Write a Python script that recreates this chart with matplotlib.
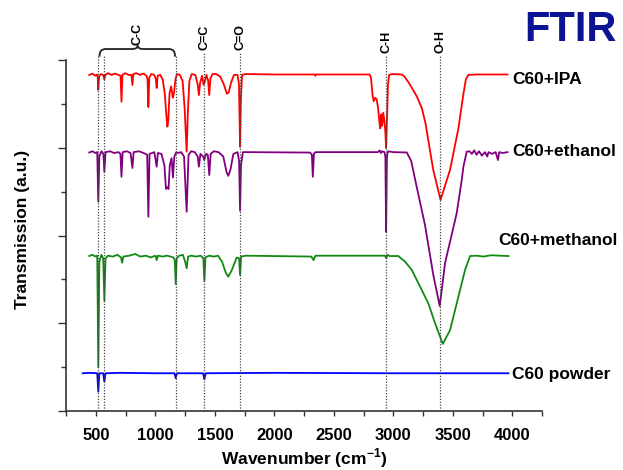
import matplotlib
matplotlib.use("Agg")
import matplotlib.pyplot as plt
from matplotlib.ticker import MultipleLocator, NullFormatter
from matplotlib.path import Path
from matplotlib.patches import PathPatch

plt.rcParams['font.family'] = ['Liberation Sans', 'DejaVu Sans']
plt.rcParams['mathtext.fontset'] = 'custom'
plt.rcParams['mathtext.rm'] = 'Liberation Sans'
plt.rcParams['mathtext.bf'] = 'Liberation Sans:bold'

# ---- spectra: (wavenumber cm^-1, stacked transmission a.u.) ----
ipa = [
    (443, 3.83), (470, 3.845), (492, 3.82), (508, 3.835), (514, 3.80), (519, 3.66), (526, 3.81),
    (540, 3.84), (560, 3.83), (570, 3.78), (578, 3.83), (600, 3.85), (630, 3.83), (660, 3.845),
    (690, 3.83), (706, 3.82), (714, 3.525), (722, 3.83), (745, 3.85), (775, 3.83), (798, 3.83),
    (806, 3.715), (814, 3.84), (840, 3.85), (870, 3.83), (900, 3.845), (925, 3.82), (933, 3.78),
    (940, 3.464), (948, 3.80), (965, 3.84), (990, 3.83), (1003, 3.78), (1010, 3.68), (1018, 3.82),
    (1040, 3.83), (1060, 3.78), (1078, 3.62), (1092, 3.36), (1100, 3.24), (1108, 3.32), (1118, 3.62),
    (1132, 3.70), (1145, 3.57), (1155, 3.62), (1168, 3.78), (1180, 3.84), (1205, 3.83), (1228, 3.76),
    (1245, 3.45), (1262, 2.955), (1272, 3.40), (1285, 3.76), (1305, 3.84), (1335, 3.83), (1355, 3.72),
    (1365, 3.60), (1375, 3.74), (1392, 3.82), (1404, 3.72), (1414, 3.75), (1428, 3.83), (1442, 3.77),
    (1452, 3.60), (1462, 3.79), (1480, 3.84), (1510, 3.84), (1545, 3.81), (1575, 3.72), (1600, 3.615),
    (1615, 3.63), (1635, 3.74), (1660, 3.83), (1690, 3.83), (1702, 3.72), (1711, 3.01), (1718, 3.55),
    (1728, 3.83), (1760, 3.84), (2000, 3.835), (2340, 3.835), (2345, 3.82), (2350, 3.835),
    (2800, 3.835), (2812, 3.80), (2825, 3.60), (2835, 3.53), (2848, 3.57), (2860, 3.55), (2872, 3.45),
    (2882, 3.30), (2890, 3.22), (2898, 3.38), (2906, 3.25), (2915, 3.40), (2925, 3.30), (2932, 3.20),
    (2939, 3.00), (2946, 3.30), (2955, 3.72), (2965, 3.83), (2990, 3.84), (3070, 3.835), (3095, 3.81),
    (3140, 3.72), (3199, 3.58), (3240, 3.45), (3270, 3.28), (3335, 2.75), (3397, 2.405), (3477, 2.75),
    (3547, 3.22), (3590, 3.62), (3610, 3.78), (3631, 3.83), (3700, 3.835), (3960, 3.835),
]

ethanol = [
    (443, 2.946), (470, 2.96), (495, 2.94), (510, 2.95), (519, 2.385), (528, 2.90), (545, 2.96),
    (562, 2.93), (570, 2.727), (580, 2.95), (620, 2.96), (650, 2.94), (690, 2.95), (705, 2.93),
    (714, 2.67), (724, 2.95), (760, 2.96), (790, 2.94), (806, 2.769), (816, 2.95), (860, 2.96),
    (900, 2.94), (930, 2.92), (940, 2.214), (950, 2.93), (990, 2.95), (1010, 2.784), (1020, 2.94),
    (1050, 2.93), (1075, 2.80), (1088, 2.53), (1100, 2.55), (1110, 2.53), (1120, 2.80), (1135, 2.88),
    (1147, 2.66), (1158, 2.90), (1175, 2.95), (1190, 2.94), (1215, 2.95), (1240, 2.90), (1262, 2.271),
    (1278, 2.92), (1300, 2.96), (1330, 2.95), (1355, 2.90), (1365, 2.784), (1378, 2.93), (1400, 2.90),
    (1410, 2.86), (1425, 2.93), (1440, 2.92), (1452, 2.689), (1464, 2.93), (1490, 2.96), (1530, 2.95),
    (1570, 2.90), (1598, 2.72), (1612, 2.68), (1630, 2.75), (1655, 2.93), (1690, 2.95), (1703, 2.85),
    (1711, 2.283), (1719, 2.80), (1735, 2.95), (1780, 2.95), (2300, 2.945), (2315, 2.92), (2323, 2.67),
    (2332, 2.93), (2345, 2.95), (2870, 2.95), (2885, 2.97), (2895, 2.94), (2905, 2.96), (2925, 2.95),
    (2933, 2.90), (2939, 2.04), (2946, 2.90), (2955, 2.96), (3000, 2.95), (3113, 2.946), (3150, 2.85),
    (3197, 2.55), (3266, 2.12), (3336, 1.55), (3390, 1.197), (3435, 1.687), (3533, 2.256),
    (3575, 2.632), (3589, 2.784), (3617, 2.955), (3640, 2.96), (3660, 2.93), (3680, 2.97),
    (3700, 2.92), (3720, 2.96), (3745, 2.91), (3770, 2.95), (3790, 2.90), (3800, 2.95), (3830, 2.93),
    (3860, 2.95), (3880, 2.86), (3890, 2.95), (3920, 2.94), (3960, 2.95),
]

methanol = [
    (443, 1.766), (470, 1.78), (495, 1.76), (510, 1.77), (519, 0.50), (528, 1.70), (545, 1.78),
    (560, 1.74), (570, 1.254), (580, 1.74), (600, 1.77), (640, 1.76), (680, 1.78), (710, 1.75),
    (719, 1.69), (730, 1.76), (780, 1.77), (830, 1.79), (870, 1.76), (920, 1.77), (960, 1.75),
    (1000, 1.77), (1010, 1.72), (1020, 1.77), (1060, 1.76), (1100, 1.77), (1150, 1.75), (1162, 1.72),
    (1170, 1.447), (1178, 1.74), (1200, 1.77), (1230, 1.78), (1250, 1.70), (1262, 1.626),
    (1274, 1.76), (1300, 1.77), (1340, 1.76), (1380, 1.77), (1402, 1.74), (1411, 1.481), (1420, 1.75),
    (1450, 1.77), (1490, 1.76), (1526, 1.77), (1560, 1.70), (1590, 1.58), (1612, 1.53), (1640, 1.60),
    (1683, 1.75), (1703, 1.74), (1711, 1.55), (1720, 1.76), (1760, 1.77), (2310, 1.76),
    (2329, 1.72), (2345, 1.77), (2930, 1.77), (2940, 1.74), (2950, 1.78), (2970, 1.766),
    (3042, 1.766), (3100, 1.70), (3155, 1.607), (3239, 1.379), (3294, 1.227), (3351, 0.999),
    (3416, 0.764), (3477, 0.923), (3547, 1.303), (3603, 1.607), (3645, 1.766), (3700, 1.77),
    (3760, 1.76), (3820, 1.775), (3968, 1.766),
]

powder = [
    (388, 0.43), (450, 0.435), (510, 0.43), (519, 0.22), (528, 0.43), (560, 0.43), (570, 0.334),
    (580, 0.43), (700, 0.435), (1000, 0.43), (1160, 0.43), (1170, 0.373), (1180, 0.43),
    (1400, 0.43), (1411, 0.361), (1422, 0.43), (2000, 0.435), (3000, 0.43), (3968, 0.43),
]

series_names = ["C60+IPA", "C60+ethanol", "C60+methanol", "C60 powder"]
series_colors = ["#ff0000", "#800080", "#138a13", "#0000ff"]
label_pos = [(4000, 3.78), (4000, 2.955), (3880, 1.94), (4000, 0.418)]

# band assignments
c60_bands = [519, 570, 1170]
band_lines = [1411, 1711, 2939, 3393]
band_names = ["C=C", "C=O", "C-H", "O-H"]

x_ticks = [500, 1000, 1500, 2000, 2500, 3000, 3500, 4000]

fig = plt.figure(figsize=(6.23, 4.70), dpi=100)
ax = fig.add_axes([66.3 / 623, 59 / 470, 475.7 / 623, 351 / 470])

for data, name, color in zip([ipa, ethanol, methanol, powder], series_names, series_colors):
    wn, tr = zip(*data)
    ax.plot(wn, tr, color=color, lw=1.3, zorder=2)

for (lx, ly), name in zip(label_pos, series_names):
    ax.text(lx, ly, name, fontsize=12.5, fontweight='bold', va='center', ha='left',
            clip_on=False)

dot = dict(color='#444444', lw=0.9, linestyle=(0, (1, 1.3)), zorder=3, clip_on=False)
for b in c60_bands:
    ax.plot([b, b], [0, 4.04], **dot)
for b, name in zip(band_lines, band_names):
    top = 4.09 if b < 2000 else 4.06
    ax.plot([b, b], [0, top], **dot)
    ax.text(b, top + 0.025, name, rotation=90, ha='center', va='bottom', fontsize=9,
            fontweight='bold', clip_on=False)

# curly brace spanning the C60 skeletal bands
verts = [(529, 4.038), (529, 4.10), (545, 4.125), (585, 4.125), (800, 4.125),
         (835, 4.125), (850, 4.14), (850, 4.165),
         (850, 4.14), (865, 4.125), (900, 4.125), (1110, 4.125),
         (1150, 4.125), (1164, 4.10), (1164, 4.038)]
codes = [Path.MOVETO, Path.CURVE4, Path.CURVE4, Path.CURVE4, Path.LINETO,
         Path.CURVE4, Path.CURVE4, Path.CURVE4,
         Path.CURVE4, Path.CURVE4, Path.CURVE4, Path.LINETO,
         Path.CURVE4, Path.CURVE4, Path.CURVE4]
ax.add_patch(PathPatch(Path(verts, codes), fill=False, lw=1.3, color='#222222', clip_on=False))
ax.text(850, 4.175, "C-C", rotation=90, ha='center', va='bottom', fontsize=9,
        fontweight='bold', clip_on=False)

ax.set_xlim(250, 4250)
ax.set_ylim(0, 4)
ax.set_xticks(x_ticks)
ax.xaxis.set_minor_locator(MultipleLocator(250))
ax.yaxis.set_major_locator(MultipleLocator(1))
ax.yaxis.set_minor_locator(MultipleLocator(0.5))
ax.yaxis.set_major_formatter(NullFormatter())
for lab in ax.get_xticklabels():
    lab.set_fontweight('bold')
ax.tick_params(axis='x', which='both', direction='out', length=3.6, width=1, labelsize=12,
               pad=9, color='#333333')
ax.tick_params(axis='y', which='major', direction='out', length=5.8, width=1, color='#333333')
ax.tick_params(axis='y', which='minor', direction='out', length=3.6, width=1, color='#333333')
for s in ['top', 'right']:
    ax.spines[s].set_visible(False)
for s in ['left', 'bottom']:
    ax.spines[s].set_color('#333333')
    ax.spines[s].set_linewidth(1.2)

ax.set_xlabel(r'Wavenumber (cm$^{\mathbf{-1}}$)', fontsize=12.5, fontweight='bold')
ax.xaxis.set_label_coords(0.5, -0.135)
ax.xaxis.label.set_va('center')
ax.set_ylabel('Transmission (a.u.)', fontsize=12.5, fontweight='bold')
ax.yaxis.set_label_coords(-0.093, 0.516)
ax.yaxis.label.set_va('center')

fig.text(0.915, 0.936, "FTIR", fontsize=30, fontweight='bold', color='#0c1494',
         ha='center', va='center')

fig.savefig("out.png", dpi=100)
